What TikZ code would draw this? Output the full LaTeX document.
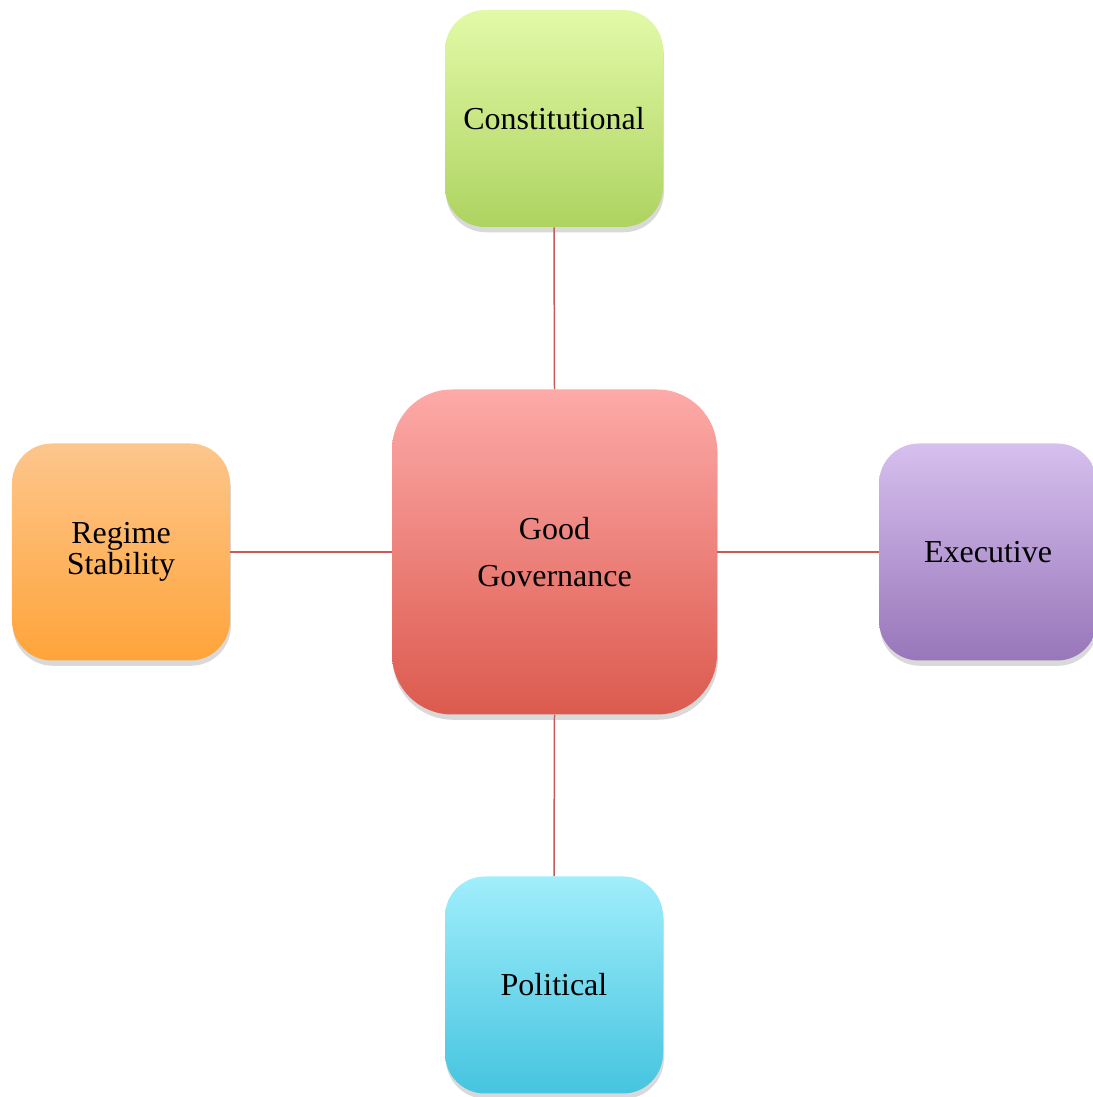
\documentclass[tikz,border=0pt]{standalone}
\usepackage{fontspec}
\setmainfont{Liberation Serif}
\usepackage{tikz}
\usetikzlibrary{shadows}

\definecolor{linkred}{HTML}{C65A57}

\begin{document}
\begin{tikzpicture}
  \tikzstyle{box}=[rounded corners=0.8cm,minimum width=4.36cm,minimum height=4.34cm,
    align=center,font=\fontsize{18.2}{18}\selectfont,
    drop shadow={shadow xshift=0.5pt,shadow yshift=-3pt,opacity=0.3}]
  \tikzstyle{main box}=[box,rounded corners=1.2cm,minimum width=6.5cm,minimum height=6.5cm,
    font=\fontsize{18.2}{27}\selectfont]
  \tikzstyle{link}=[draw=linkred,line width=0.85pt]

  \useasboundingbox (0,0) rectangle (21.86,21.94);

    \node [main box, top color={rgb,255:red,253;green,170;blue,168},
      bottom color={rgb,255:red,220;green,90;blue,78}] (gg) at (11.09,10.90) {Good\\Governance};

    \node [box, top color={rgb,255:red,226;green,250;blue,168},
      bottom color={rgb,255:red,174;green,211;blue,96}] (const) at (11.08,19.57) {Constitutional};
    \node [box, top color={rgb,255:red,253;green,198;blue,140},
      bottom color={rgb,255:red,255;green,164;blue,58}, font=\fontsize{18.2}{16}\selectfont] (regime) at (2.42,10.90) {Regime\\Stability};
    \node [box, top color={rgb,255:red,214;green,192;blue,238},
      bottom color={rgb,255:red,152;green,118;blue,186}] (exec) at (19.76,10.90) {Executive};
    \node [box, top color={rgb,255:red,160;green,238;blue,251},
      bottom color={rgb,255:red,69;green,196;blue,224}] (pol) at (11.08,2.24) {Political};

    \draw [link] (gg.north) -- (const.south);
    \draw [link] (gg.west) -- (regime.east);
    \draw [link] (gg.east) -- (exec.west);
    \draw [link] (gg.south) -- (pol.north);
\end{tikzpicture}
\end{document}
